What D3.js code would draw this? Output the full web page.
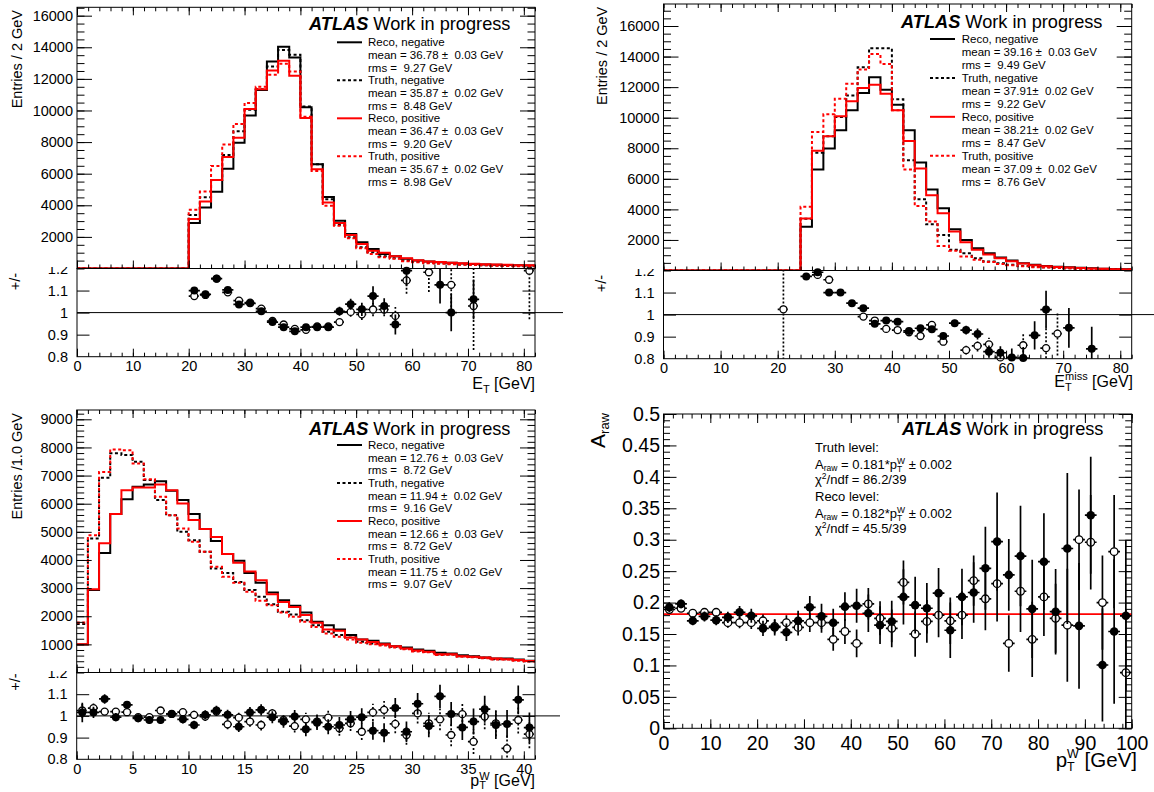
<!DOCTYPE html>
<html>
<head>
<meta charset="utf-8">
<title>W charge asymmetry inputs</title>
<script src="https://cdn.jsdelivr.net/npm/d3@7/dist/d3.min.js"></script>
<style>
  html, body { margin: 0; padding: 0; background: #fff; }
  svg text { white-space: pre; }
</style>
</head>
<body>
<script>
// ================= data =================

// ---- lepton E_T, 2 GeV bins (top left)
const etBins = d3.range(0, 82, 2);
const etRecoNeg  = [0,0,0,0,0,0,0,0,0,0, 2880,3860,4850,6320,7955,9680,11300,13100,14040,13350,10200,6590,4530,3020,2180,1660,1240,920,780,610,500,440,400,360,320,290,260,240,220,200,190];
const etTruthNeg = [0,0,0,0,0,0,0,0,0,0, 3380,4510,5600,7180,8690,10050,11350,12780,13830,13520,10250,6590,4390,2750,1970,1340,1030,780,650,500,420,370,330,290,260,230,210,190,170,160,150];
const etRecoPos  = [0,0,0,0,0,0,0,0,0,0, 3130,4240,5600,7050,8270,10100,11350,12530,13140,12200,9530,6280,4180,2880,2120,1550,1130,990,780,650,520,450,410,370,330,300,270,250,230,210,200];
const etTruthPos = [0,0,0,0,0,0,0,0,0,0, 3715,4870,6490,7850,9150,10470,11500,12260,12950,12470,9600,6170,3970,2710,1910,1280,920,710,610,460,390,340,300,270,240,220,200,180,160,150,140];
const etRatioRecoX   = [21,23,25,27,29,31,33,35,37,39,41,43,45,47,49,51,53,55,57,59,65,67,71];
const etRatioReco    = [1.10,1.083,1.154,1.103,1.037,1.042,1.006,0.957,0.934,0.915,0.934,0.934,0.934,1.006,1.038,1.015,1.075,1.03,0.946,1.19,1.126,1.0,1.06];
const etRatioRecoErr = [0.015,0.012,0.01,0.01,0.008,0.008,0.008,0.008,0.008,0.008,0.01,0.012,0.014,0.02,0.025,0.03,0.045,0.035,0.045,0.07,0.085,0.085,0.09];
const etRatioTruthX   = [21,23,25,27,29,31,33,35,37,39,41,43,45,47,49,51,53,55,57,59,63,67,71,81];
const etRatioTruth    = [1.075,1.08,1.154,1.092,1.054,1.045,1.018,0.962,0.946,0.926,0.922,0.937,0.937,0.957,1.003,0.992,1.014,1.014,0.985,1.146,1.183,1.126,1.03,1.19];
const etRatioTruthErr = [0.012,0.01,0.008,0.008,0.007,0.007,0.007,0.007,0.007,0.007,0.008,0.01,0.012,0.018,0.022,0.025,0.03,0.03,0.04,0.06,0.09,0.12,0.2,0.22];
const etLegend = [
  ["Reco, negative",  "mean = 36.78 \u00b1  0.03 GeV", "rms =  9.27 GeV"],
  ["Truth, negative", "mean = 35.87 \u00b1  0.02 GeV", "rms =  8.48 GeV"],
  ["Reco, positive",  "mean = 36.47 \u00b1  0.03 GeV", "rms =  9.20 GeV"],
  ["Truth, positive", "mean = 35.67 \u00b1  0.02 GeV", "rms =  8.98 GeV"]
];

// ---- missing E_T, 2 GeV bins (top right)
const etmBins = d3.range(0, 82, 2);
const etmRecoNeg  = [0,0,0,0,0,0,0,0,0,0,0,0, 2870,6610,7980,9170,10480,11610,12650,11830,10850,9170,7070,5300,4070,2700,2000,1460,1130,850,650,480,370,300,250,210,180,150,120,100,80];
const etmTruthNeg = [0,0,0,0,0,0,0,0,0,0,0,0, 3380,7700,8780,10050,11460,13300,14540,14540,11200,7220,4670,3020,2330,1350,1130,800,590,480,370,300,250,210,180,150,130,110,90,80,70];
const etmRecoPos  = [0,0,0,0,0,0,0,0,0,0,0,0, 3410,7830,8780,10090,11070,11940,12150,11570,10480,8480,6670,4930,3740,2550,1850,1350,1050,800,600,450,350,280,230,190,160,130,110,90,70];
const etmTruthPos = [0,0,0,0,0,0,0,0,0,0,0,0, 4170,9070,10220,11240,12220,13150,14170,13520,10480,6610,4220,3200,1610,1300,920,700,550,430,350,270,220,190,160,140,120,100,85,70,60];
const etmRatioRecoX   = [25,27,29,31,33,35,37,39,41,43,45,47,49,51,53,55,57,59,61,63,65,67,71,75];
const etmRatioReco    = [1.173,1.192,1.1,1.1,1.052,1.029,0.958,0.973,0.968,0.926,0.938,0.933,0.903,0.961,0.93,0.912,0.832,0.827,0.806,0.803,0.906,1.023,0.94,0.845];
const etmRatioRecoErr = [0.015,0.012,0.01,0.01,0.008,0.008,0.008,0.008,0.009,0.01,0.012,0.013,0.015,0.016,0.02,0.025,0.028,0.03,0.04,0.05,0.064,0.085,0.09,0.1];
const etmRatioTruthX   = [21,27,29,35,37,39,41,43,45,47,49,53,55,57,59,63,67,69];
const etmRatioTruth    = [1.024,1.18,1.158,0.991,0.973,0.935,0.93,0.92,0.903,0.953,0.877,0.839,0.858,0.865,0.806,0.861,0.848,0.914];
const etmRatioTruthErr = [0.3,0.01,0.01,0.007,0.007,0.007,0.008,0.009,0.01,0.012,0.015,0.02,0.025,0.03,0.035,0.05,0.1,0.1];
const etmLegend = [
  ["Reco, negative",  "mean = 39.16 \u00b1  0.03 GeV", "rms =  9.49 GeV"],
  ["Truth, negative", "mean = 37.91\u00b1  0.02 GeV",  "rms =  9.22 GeV"],
  ["Reco, positive",  "mean = 38.21\u00b1  0.02 GeV",  "rms =  8.47 GeV"],
  ["Truth, positive", "mean = 37.09 \u00b1  0.02 GeV", "rms =  8.76 GeV"]
];

// ---- W transverse momentum, 1 GeV bins (bottom left)
const ptBins = d3.range(0, 41, 1);
const ptRecoNeg  = [995,2930,4250,5630,6160,6600,6680,6800,6460,6130,5630,5100,4670,4210,3970,3540,3190,2840,2570,2370,2130,1800,1680,1530,1330,1170,1125,1030,936,890,818,770,700,675,616,580,533,498,498,462,415];
const ptTruthNeg = [1720,4760,6920,7790,7730,7490,6840,6130,5590,5000,4700,4290,3700,3540,3220,2930,2690,2430,2160,2060,1860,1680,1450,1330,1240,1090,1030,995,912,853,770,735,640,640,580,557,521,474,474,438,403];
const ptRecoPos  = [1000,2960,4590,5630,6480,6580,6580,6680,6480,6010,5420,5100,4820,4210,3900,3590,3280,2780,2510,2330,2040,1770,1530,1480,1240,1170,1080,1000,930,850,780,740,650,650,580,560,530,500,470,440,410];
const ptTruthPos = [1780,4880,7130,7930,7900,7430,6870,6250,5590,5120,4650,4290,3760,3400,3190,2870,2550,2390,2130,1980,1800,1620,1390,1270,1170,1055,1000,960,890,830,750,720,620,630,560,540,510,460,460,420,390];
const ptRatioX = d3.range(0.5, 41, 1);
const ptRatioReco    = [1.016,1.016,1.078,0.994,1.051,0.989,0.981,0.981,1.009,0.984,0.958,1.005,1.025,1.005,0.95,1.016,1.028,0.994,0.974,0.997,0.938,0.969,0.95,0.958,0.984,0.994,0.932,0.922,1.036,0.927,1.056,0.953,1.09,1.009,0.947,0.974,1.031,0.958,0.963,1.074,0.946];
const ptRatioRecoErr = [0.045,0.026,0.022,0.019,0.018,0.018,0.018,0.018,0.018,0.019,0.02,0.021,0.022,0.023,0.024,0.025,0.026,0.028,0.029,0.03,0.032,0.034,0.035,0.037,0.039,0.041,0.042,0.044,0.046,0.047,0.05,0.051,0.054,0.055,0.058,0.06,0.062,0.064,0.064,0.066,0.07];
const ptRatioTruth    = [1.025,1.036,1.02,1.02,1.017,0.994,0.994,1.025,1.009,1.017,1.005,0.997,1.02,0.961,0.992,0.974,0.958,1.012,0.981,0.953,0.984,0.974,0.992,0.943,0.966,0.927,1.016,1.028,0.963,0.912,1.012,0.966,0.984,0.912,1.008,0.881,0.997,0.966,0.85,0.981,0.916];
const ptRatioTruthErr = [0.035,0.021,0.017,0.016,0.016,0.016,0.017,0.017,0.018,0.018,0.019,0.02,0.021,0.022,0.023,0.024,0.025,0.026,0.028,0.029,0.03,0.032,0.033,0.035,0.036,0.038,0.04,0.041,0.043,0.045,0.047,0.048,0.05,0.052,0.054,0.056,0.058,0.06,0.06,0.062,0.065];
const ptLegend = [
  ["Reco, negative",  "mean = 12.76 \u00b1  0.03 GeV", "rms =  8.72 GeV"],
  ["Truth, negative", "mean = 11.94 \u00b1  0.02 GeV", "rms =  9.16 GeV"],
  ["Reco, positive",  "mean = 12.66 \u00b1  0.03 GeV", "rms =  8.72 GeV"],
  ["Truth, positive", "mean = 11.75 \u00b1  0.02 GeV", "rms =  9.07 GeV"]
];

// ---- raw charge asymmetry vs p_T^W, 2.5 GeV bins (bottom right)
const arawX = d3.range(1.25, 100, 2.5);
const arawReco    = [0.1925,0.198,0.171,0.178,0.172,0.1765,0.1845,0.179,0.159,0.1605,0.1527,0.171,0.1925,0.178,0.168,0.1935,0.195,0.183,0.164,0.17,0.209,0.196,0.191,0.215,0.156,0.209,0.216,0.2545,0.297,0.244,0.274,0.19,0.265,0.1855,0.286,0.163,0.339,0.1007,0.154,0.179];
const arawRecoErr = [0.008,0.007,0.007,0.008,0.008,0.009,0.01,0.011,0.012,0.013,0.014,0.016,0.018,0.02,0.022,0.023,0.027,0.03,0.03,0.033,0.044,0.045,0.04,0.04,0.044,0.045,0.048,0.066,0.078,0.057,0.08,0.078,0.077,0.068,0.12,0.1,0.093,0.09,0.115,0.12];
const arawTruth    = [0.189,0.191,0.183,0.1845,0.1845,0.168,0.168,0.168,0.171,0.162,0.168,0.1605,0.168,0.168,0.1415,0.154,0.135,0.198,0.175,0.159,0.232,0.15,0.17,0.18,0.171,0.18,0.235,0.206,0.23,0.135,0.218,0.1415,0.209,0.175,0.164,0.3,0.296,0.2,0.281,0.0885];
const arawTruthErr = [0.006,0.006,0.006,0.007,0.007,0.008,0.009,0.01,0.01,0.011,0.012,0.013,0.015,0.016,0.018,0.02,0.022,0.025,0.027,0.03,0.035,0.036,0.034,0.035,0.037,0.038,0.04,0.05,0.06,0.045,0.065,0.06,0.062,0.055,0.09,0.08,0.075,0.075,0.09,0.1];
const arawFitTruth = 0.181;
const arawFitReco  = 0.182;

// ---- tick values
const ticks82Major = [0,10,20,30,40,50,60,70,80];
const ticks82Minor = d3.range(0, 83, 2);
const ticks41Major = [0,5,10,15,20,25,30,35,40];
const ticks41Minor = d3.range(0, 42, 1);
const ticks100Major = [0,10,20,30,40,50,60,70,80,90,100];
const ticks100Minor = d3.range(0, 101, 2);
const ratioTicks  = [0.9, 1.0, 1.1];
const ratioLabels = [0.8, 0.9, 1.0, 1.1, 1.2];
const arawMajor = [0,0.05,0.1,0.15,0.2,0.25,0.3,0.35,0.4,0.45,0.5];
const arawMinor = d3.range(0, 0.5001, 0.01);

// ================= drawing =================
const FONT = '"Liberation Sans", Arial, Helvetica, sans-serif';
const RED = "#ff0000";
const DASH = "3,2.5";

const svg = d3.select("body").append("svg")
  .attr("width", 1154).attr("height", 792)
  .style("display", "block")
  .attr("font-family", FONT);
svg.append("rect").attr("width", 1154).attr("height", 792).attr("fill", "#fff");
const defs = svg.append("defs");

let clipCount = 0;
function clip(x, y, w, h) {
  const id = "clip-" + (clipCount++);
  defs.append("clipPath").attr("id", id).append("rect")
    .attr("x", x).attr("y", y).attr("width", w).attr("height", h);
  return `url(#${id})`;
}

// text made of pieces with sub/superscripts; "back" pieces stack under the previous one
function rich(g, x, y, parts, opt = {}) {
  const grp = g.append("g");
  const inner = grp.append("g");
  let end = 0, lastStart = 0;
  parts.forEach(p => {
    const start = p.back ? lastStart : end;
    const t = inner.append("text")
      .attr("x", start).attr("y", p.dy || 0)
      .attr("font-size", p.fs || opt.fs || 12)
      .attr("fill", "#000")
      .text(p.t);
    if (p.bold) t.attr("font-weight", "bold");
    if (p.italic) t.attr("font-style", "italic");
    const w = t.node().getComputedTextLength();
    if (!p.back) lastStart = start;
    end = Math.max(end, start + w);
  });
  grp.attr("transform", `translate(${x},${y})` + (opt.rotate ? ` rotate(${opt.rotate})` : ""));
  inner.attr("transform", `translate(${opt.anchor === "end" ? -end : 0},0)`);
  return grp;
}

// inward ticks with optional labels
function axis(g, side, scale, at, values, len, opt = {}) {
  const make = { left: d3.axisLeft, right: d3.axisRight, top: d3.axisTop, bottom: d3.axisBottom }[side];
  const ax = make(scale).tickValues(values).tickSizeInner(-len).tickSizeOuter(0)
    .tickPadding(opt.pad == null ? 3 : opt.pad)
    .tickFormat(opt.fmt || (() => ""));
  const tr = (side === "left" || side === "right") ? `translate(${at},0)` : `translate(0,${at})`;
  const a = g.append("g").attr("transform", tr).call(ax);
  a.select(".domain").remove();
  a.attr("font-family", FONT).attr("font-size", null);
  a.selectAll(".tick line").attr("stroke", "#000").attr("stroke-width", 1);
  a.selectAll(".tick text").attr("font-size", opt.fs || 14.5).attr("fill", "#000");
  return a;
}

function frameRect(g, x0, y0, x1, y1) {
  g.append("rect").attr("x", x0).attr("y", y0).attr("width", x1 - x0).attr("height", y1 - y0)
    .attr("fill", "none").attr("stroke", "#000").attr("stroke-width", 1);
}

function histogram(g, x, y, lows, width, vals, color, dashed) {
  const pts = lows.map((lo, i) => [lo, vals[i]]);
  pts.push([lows[lows.length - 1] + width, vals[vals.length - 1]]);
  const line = d3.line().x(d => x(d[0])).y(d => y(d[1])).curve(d3.curveStepAfter);
  g.append("path").attr("d", line(pts))
    .attr("fill", "none").attr("stroke", color).attr("stroke-width", 2)
    .attr("stroke-dasharray", dashed ? DASH : null);
}

function points(g, x, y, xs, vs, es, halfW, open, dashed, barClip, r) {
  const bars = g.append("g").attr("clip-path", barClip)
    .attr("stroke", "#000").attr("stroke-width", 1.7)
    .attr("stroke-dasharray", dashed ? "2,2" : null);
  xs.forEach((c, i) => {
    bars.append("line").attr("x1", x(c - halfW)).attr("x2", x(c + halfW))
      .attr("y1", y(vs[i])).attr("y2", y(vs[i]));
    bars.append("line").attr("x1", x(c)).attr("x2", x(c))
      .attr("y1", y(vs[i] - es[i])).attr("y2", y(vs[i] + es[i]));
  });
  g.append("g").selectAll("circle").data(xs).join("circle")
    .attr("cx", d => x(d)).attr("cy", (d, i) => y(vs[i]))
    .attr("r", open ? r - 0.5 : r)
    .attr("fill", open ? "#fff" : "#000")
    .attr("stroke", "#000").attr("stroke-width", open ? 1.3 : 0);
}

const ATLAS = [{ t: "ATLAS", fs: 18.2, bold: true, italic: true }, { t: " Work in progress", fs: 18.2 }];
const legendStyles = [["#000", false], ["#000", true], [RED, false], [RED, true]];

function histPanel(P) {
  const g = svg.append("g");
  const x = d3.scaleLinear().domain([0, P.xMax]).range([P.x0, P.x1]);
  const y = d3.scaleLinear().domain([0, P.yMax]).range([P.split, P.top]);
  const r = d3.scaleLinear().domain([0.8, 1.2]).range([P.bottom, P.split]);
  const mainClip = clip(P.x0, P.top, P.x1 - P.x0, P.split - P.top);
  const ratioClip = clip(P.x0, P.split, P.x1 - P.x0, P.bottom - P.split);
  const padClip = clip(0, P.clipY, P.x1 + 40, 200);

  // ---- ratio pad
  const rg = g.append("g");
  rg.append("line").attr("x1", P.x0).attr("x2", P.lineEnd)
    .attr("y1", r(1)).attr("y2", r(1)).attr("stroke", "#000").attr("stroke-width", 1);
  points(rg, x, r, P.truthX, P.truth, P.truthErr, P.halfW, true, true, ratioClip, 4);
  points(rg, x, r, P.recoX, P.reco, P.recoErr, P.halfW, false, false, ratioClip, 4);
  frameRect(rg, P.x0, P.split, P.x1, P.bottom);
  axis(rg, "left", r, P.x0, ratioTicks, 12.5);
  axis(rg, "right", r, P.x1, ratioTicks, 12.5);
  const lab = rg.append("g").attr("clip-path", padClip);
  axis(lab, "left", r, P.x0, ratioLabels, 0, { fmt: v => String(+v.toFixed(1)), pad: 9 });
  axis(rg, "bottom", x, P.bottom, P.xMinor, 4);
  axis(rg, "bottom", x, P.bottom, P.xMajor, 8, { fmt: d3.format("d"), pad: 4 });
  rich(lab, P.rTitleX, P.rTitleEnd, [{ t: "+/-", fs: 14.5 }], { anchor: "end", rotate: -90 });
  rich(rg, P.xTitleRight, P.xTitleY, P.xTitle, { anchor: "end" });

  // ---- main pad
  const mg = g.append("g");
  const hg = mg.append("g").attr("clip-path", mainClip);
  histogram(hg, x, y, P.bins, P.binW, P.recoNeg, "#000", false);
  histogram(hg, x, y, P.bins, P.binW, P.truthNeg, "#000", true);
  histogram(hg, x, y, P.bins, P.binW, P.recoPos, RED, false);
  histogram(hg, x, y, P.bins, P.binW, P.truthPos, RED, true);
  frameRect(mg, P.x0, P.top, P.x1, P.split);
  axis(mg, "left", y, P.x0, P.yMinor, 7.5);
  axis(mg, "left", y, P.x0, P.yMajor, 15, { fmt: d3.format("d"), pad: 4 });
  axis(mg, "right", y, P.x1, P.yMinor, 7.5);
  axis(mg, "right", y, P.x1, P.yMajor, 15);
  axis(mg, "top", x, P.top, P.xMinor, 4);
  axis(mg, "top", x, P.top, P.xMajor, 8);
  axis(mg, "bottom", x, P.split, P.xMinor, 4);
  axis(mg, "bottom", x, P.split, P.xMajor, 8);
  rich(mg, P.yTitleX, P.yTitleEnd, [{ t: P.yTitle, fs: 14.5 }], { anchor: "end", rotate: -90 });
  rich(mg, P.atlasX, P.atlasY, ATLAS);

  // legend
  P.legend.forEach((blk, k) => {
    blk.forEach((txt, j) => {
      const cy = P.legY + (k * 3 + j) * P.legStep;
      mg.append("text").attr("x", P.legTextX).attr("y", cy + 4)
        .attr("font-size", 11.5).attr("fill", "#000").text(txt);
    });
    const cy = P.legY + k * 3 * P.legStep;
    mg.append("line").attr("x1", P.legLineX0).attr("x2", P.legLineX1)
      .attr("y1", cy).attr("y2", cy)
      .attr("stroke", legendStyles[k][0]).attr("stroke-width", 2)
      .attr("stroke-dasharray", legendStyles[k][1] ? DASH : null);
  });
}

// top left: E_T
histPanel({
  x0: 77, x1: 535, top: 7.3, split: 268.5, bottom: 356.7, clipY: 267, lineEnd: 563,
  xMax: 82, yMax: 16530, bins: etBins, binW: 2, halfW: 1,
  recoNeg: etRecoNeg, truthNeg: etTruthNeg, recoPos: etRecoPos, truthPos: etTruthPos,
  recoX: etRatioRecoX, reco: etRatioReco, recoErr: etRatioRecoErr,
  truthX: etRatioTruthX, truth: etRatioTruth, truthErr: etRatioTruthErr,
  xMajor: ticks82Major, xMinor: ticks82Minor,
  yMajor: d3.range(2000, 16001, 2000), yMinor: d3.range(0, 16530, 500),
  yTitle: "Entries / 2 GeV", yTitleX: 21.5, yTitleEnd: 10,
  rTitleX: 20, rTitleEnd: 273,
  xTitle: [{ t: "E", fs: 16 }, { t: "T", fs: 11, dy: 4 }, { t: " [GeV]", fs: 16 }], xTitleY: 389, xTitleRight: 535,
  atlasX: 309, atlasY: 30,
  legend: etLegend, legY: 42.3, legStep: 12.67, legTextX: 368, legLineX0: 337, legLineX1: 362
});

// top right: missing E_T
histPanel({
  x0: 663.5, x1: 1131.7, top: 4, split: 270.5, bottom: 358.7, clipY: 269, lineEnd: 1154,
  xMax: 82, yMax: 17440, bins: etmBins, binW: 2, halfW: 1,
  recoNeg: etmRecoNeg, truthNeg: etmTruthNeg, recoPos: etmRecoPos, truthPos: etmTruthPos,
  recoX: etmRatioRecoX, reco: etmRatioReco, recoErr: etmRatioRecoErr,
  truthX: etmRatioTruthX, truth: etmRatioTruth, truthErr: etmRatioTruthErr,
  xMajor: ticks82Major, xMinor: ticks82Minor,
  yMajor: d3.range(2000, 16001, 2000), yMinor: d3.range(0, 17440, 500),
  yTitle: "Entries / 2 GeV", yTitleX: 606.5, yTitleEnd: 6.7,
  rTitleX: 606, rTitleEnd: 275,
  xTitle: [{ t: "E", fs: 16 }, { t: "miss", fs: 11, dy: -7 }, { t: "T", fs: 11, dy: 4, back: true }, { t: " [GeV]", fs: 16 }], xTitleY: 387, xTitleRight: 1133,
  atlasX: 901, atlasY: 27.5,
  legend: etmLegend, legY: 39, legStep: 12.97, legTextX: 961.7, legLineX0: 930, legLineX1: 955
});

// bottom left: p_T^W
histPanel({
  x0: 76.7, x1: 535, top: 410, split: 672.5, bottom: 759.3, clipY: 671, lineEnd: 560,
  xMax: 41, yMax: 9331, bins: ptBins, binW: 1, halfW: 0.5,
  recoNeg: ptRecoNeg, truthNeg: ptTruthNeg, recoPos: ptRecoPos, truthPos: ptTruthPos,
  recoX: ptRatioX, reco: ptRatioReco, recoErr: ptRatioRecoErr,
  truthX: ptRatioX, truth: ptRatioTruth, truthErr: ptRatioTruthErr,
  xMajor: ticks41Major, xMinor: ticks41Minor,
  yMajor: d3.range(1000, 9001, 1000), yMinor: d3.range(0, 9331, 200),
  yTitle: "Entries /1.0 GeV", yTitleX: 21.7, yTitleEnd: 413,
  rTitleX: 20, rTitleEnd: 673.5,
  xTitle: [{ t: "p", fs: 16 }, { t: "W", fs: 11, dy: -6 }, { t: "T", fs: 11, dy: 3, back: true }, { t: " [GeV]", fs: 16 }], xTitleY: 786, xTitleRight: 535,
  atlasX: 309, atlasY: 434.5,
  legend: ptLegend, legY: 445, legStep: 12.67, legTextX: 368, legLineX0: 337, legLineX1: 362
});

// bottom right: raw asymmetry
(function () {
  const g = svg.append("g");
  const x0 = 663.5, x1 = 1131.7, top = 414, bottom = 728.3;
  const x = d3.scaleLinear().domain([0, 100]).range([x0, x1]);
  const y = d3.scaleLinear().domain([0, 0.5]).range([bottom, top]);
  const fc = clip(x0, top, x1 - x0, bottom - top);

  const fits = g.append("g").attr("clip-path", fc);
  [arawFitTruth, arawFitReco].forEach(v => {
    fits.append("line").attr("x1", x(0)).attr("x2", x(100)).attr("y1", y(v)).attr("y2", y(v))
      .attr("stroke", RED).attr("stroke-width", 1.2);
  });
  points(g, x, y, arawX, arawTruth, arawTruthErr, 1.25, true, false, fc, 4.3);
  points(g, x, y, arawX, arawReco, arawRecoErr, 1.25, false, false, fc, 4.3);

  frameRect(g, x0, top, x1, bottom);
  axis(g, "left", y, x0, arawMinor, 6.5);
  axis(g, "left", y, x0, arawMajor, 13, { fmt: v => String(+v.toFixed(2)), pad: 3.5, fs: 19.5 });
  axis(g, "right", y, x1, arawMinor, 6.5);
  axis(g, "right", y, x1, arawMajor, 13);
  axis(g, "bottom", x, bottom, ticks100Minor, 4.5);
  axis(g, "bottom", x, bottom, ticks100Major, 9, { fmt: d3.format("d"), pad: 8, fs: 19.5 });
  axis(g, "top", x, top, ticks100Minor, 4.5);
  axis(g, "top", x, top, ticks100Major, 9);

  rich(g, 605, 413, [{ t: "A", fs: 21 }, { t: "raw", fs: 13, dy: 4 }], { anchor: "end", rotate: -90 });
  rich(g, 1137, 767, [{ t: "p", fs: 20.5 }, { t: "W", fs: 12.5, dy: -9 }, { t: "T", fs: 12.5, dy: 4, back: true }, { t: " [GeV]", fs: 20.5 }], { anchor: "end" });
  rich(g, 902, 435, ATLAS);

  // fit summary
  const fs = 13, sm = 8.5;
  rich(g, 815, 452, [{ t: "Truth level:", fs }]);
  rich(g, 815, 469, [{ t: "A", fs }, { t: "raw", fs: sm, dy: 2 }, { t: " = " + arawFitTruth + "*p", fs }, { t: "W", fs: sm, dy: -5 }, { t: "T", fs: sm, dy: 2.5, back: true }, { t: " \u00b1 0.002", fs }]);
  rich(g, 815, 484, [{ t: "\u03c7", fs }, { t: "2", fs: sm, dy: -5 }, { t: "/ndf = 86.2/39", fs }]);
  rich(g, 815, 501, [{ t: "Reco level:", fs }]);
  rich(g, 815, 518, [{ t: "A", fs }, { t: "raw", fs: sm, dy: 2 }, { t: " = " + arawFitReco + "*p", fs }, { t: "W", fs: sm, dy: -5 }, { t: "T", fs: sm, dy: 2.5, back: true }, { t: " \u00b1 0.002", fs }]);
  rich(g, 815, 533, [{ t: "\u03c7", fs }, { t: "2", fs: sm, dy: -5 }, { t: "/ndf = 45.5/39", fs }]);
})();
</script>
</body>
</html>
